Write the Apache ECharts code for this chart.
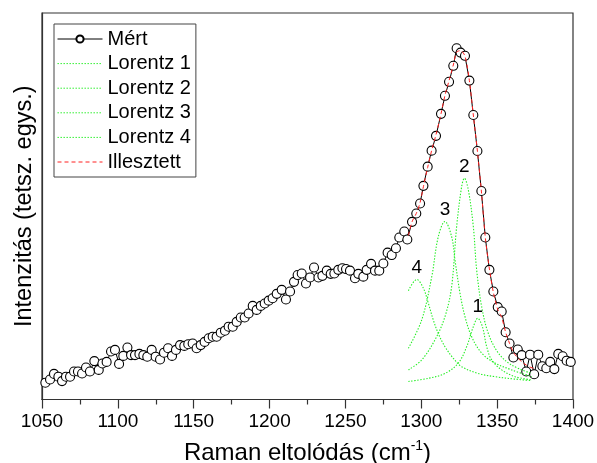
<!DOCTYPE html>
<html>
<head>
<meta charset="utf-8">
<script src="https://cdn.jsdelivr.net/npm/echarts@6/dist/echarts.min.js"></script>
<style>
  html, body { margin: 0; padding: 0; background: #fff; }
  #chart { width: 597px; height: 463px; }
</style>
</head>
<body>
<div id="chart"></div>
<script>
// Measured Raman spectrum (shift in cm-1, intensity in arbitrary units)
const ramanShift = [
  1052.2, 1055.3, 1057.9, 1060.8, 1063.2, 1065.8, 1068.5, 1071.1, 1073.7, 1076.4,
  1079.0, 1081.6, 1084.5, 1087.4, 1089.8, 1092.6, 1095.5, 1098.1, 1100.8, 1103.6,
  1106.3, 1108.7, 1111.3, 1114.2, 1116.8, 1119.4, 1122.3, 1124.9, 1127.8, 1130.4,
  1133.1, 1135.7, 1138.3, 1141.0, 1143.8, 1146.4, 1149.3, 1151.9, 1154.6, 1157.2,
  1159.9, 1162.5, 1165.1, 1167.8, 1170.6, 1173.0, 1175.7, 1178.3, 1181.0, 1183.6,
  1186.2, 1188.9, 1191.5, 1194.2, 1196.8, 1199.4, 1202.0, 1204.7, 1208.0, 1210.8,
  1213.5, 1216.1, 1218.5, 1221.2, 1224.0, 1226.7, 1229.3, 1232.2, 1234.8, 1237.7,
  1240.3, 1242.7, 1245.3, 1248.0, 1250.4, 1253.0, 1256.3, 1258.5, 1261.8, 1264.0,
  1266.9, 1269.5, 1272.3, 1275.0, 1277.8, 1280.5, 1283.3, 1285.5, 1288.8, 1290.8,
  1293.9, 1296.7, 1299.2, 1301.4, 1304.2, 1306.8, 1309.7, 1313.0, 1315.6, 1318.3,
  1321.1, 1323.3, 1325.9, 1328.8, 1331.7, 1334.3, 1337.0, 1339.6, 1342.2, 1344.9,
  1347.5, 1350.4, 1353.0, 1355.6, 1358.2, 1360.7, 1363.6, 1366.2, 1369.2, 1371.7,
  1374.4, 1377.1, 1379.8, 1382.4, 1385.0, 1387.7, 1390.3, 1393.2, 1395.8, 1398.5
];
const measured = [
  42, 50, 64, 57, 46, 57, 57, 70, 70, 65,
  80, 70, 96, 74, 90, 94, 120, 124, 89, 109,
  130, 111, 111, 114, 111, 107, 124, 107, 100, 117,
  128, 109, 124, 136, 134, 138, 140, 128, 136, 144,
  153, 157, 157, 167, 172, 182, 182, 194, 205, 205,
  215, 234, 224, 234, 240, 247, 253, 264, 274, 250,
  270, 294, 311, 315, 290, 305, 330, 305, 309, 322,
  314, 315, 324, 328, 326, 322, 303, 314, 307, 324,
  339, 322, 322, 340, 367, 361, 378, 405, 420, 400,
  444, 465, 490, 534, 582, 622, 659, 714, 759, 794,
  834, 878, 867, 859, 797, 711, 621, 521, 405, 324,
  270, 231, 220, 168, 140, 105, 125, 111, 70, 112,
  63, 112, 83, 78, 94, 76, 114, 108, 97, 94
];

// Lorentzian components
const lor1X = [1291.5, 1304.7, 1315.6, 1324.4, 1329.9, 1334.3, 1337.2, 1340.3, 1343.1, 1346.4, 1353.0, 1361.8, 1372.8];
const lor1Y = [45, 53, 65, 91, 132, 182, 203, 182, 132, 99, 74, 57, 49];
const lor2X = [1291.5, 1300.3, 1309.0, 1315.6, 1320.0, 1323.3, 1326.6, 1328.4, 1331.0, 1334.3, 1336.5, 1339.8, 1344.2, 1350.8, 1359.6, 1372.8];
const lor2Y = [74, 99, 149, 207, 282, 432, 532, 553, 524, 432, 324, 232, 165, 116, 86, 65];
const lor3X = [1291.5, 1300.3, 1306.9, 1311.2, 1315.6, 1320.0, 1322.2, 1325.5, 1328.8, 1333.2, 1339.8, 1348.6, 1359.6, 1372.8];
const lor3Y = [128, 199, 307, 407, 445, 407, 349, 266, 207, 157, 116, 91, 74, 57];
const lor4X = [1291.5, 1297.0, 1301.4, 1304.7, 1307.9, 1311.2, 1315.6, 1321.1, 1326.6, 1337.6, 1348.6, 1361.8, 1372.8];
const lor4Y = [272, 300, 278, 240, 199, 165, 132, 103, 82, 65, 57, 51, 47];

// Fitted envelope
const fitX = [1291.5, 1293.9, 1296.7, 1299.2, 1301.4, 1304.2, 1306.8, 1309.7, 1313.0, 1315.6,
  1318.3, 1321.1, 1323.3, 1325.9, 1328.8, 1331.7, 1334.3, 1337.0, 1339.6, 1342.2,
  1344.9, 1347.5, 1350.4, 1353.0, 1355.6, 1358.2, 1360.7, 1363.6, 1366.2, 1369.2, 1371.7, 1373.9];
const fitY = [410, 444, 465, 492, 532, 580, 622, 662, 714, 760,
  797, 836, 868, 872, 858, 797, 711, 621, 521, 405,
  326, 268, 225, 205, 168, 140, 118, 104, 94, 86, 81, 78];

const FONT = 'Liberation Sans, Arial, sans-serif';
const GREEN = '#22ee22';
const RED = '#ff2020';

function pairs(xs, ys) { return xs.map((x, i) => [x, ys[i]]); }

// number label placed just above the maximum of a component
function peakMark(xs, ys, text) {
  let k = 0;
  ys.forEach((v, i) => { if (v > ys[k]) k = i; });
  return {
    symbol: 'circle', symbolSize: 0, silent: true,
    label: { show: true, position: 'top', distance: 2, formatter: text,
             color: '#000', fontSize: 19, fontFamily: FONT },
    data: [{ coord: [xs[k], ys[k]] }]
  };
}

function lorentzSeries(name, xs, ys, label) {
  return {
    name, type: 'line', data: pairs(xs, ys), smooth: 0.35, symbol: 'none',
    lineStyle: { color: GREEN, width: 1.1, type: [1.4, 1.6] },
    itemStyle: { color: GREEN },
    markPoint: peakMark(xs, ys, label), z: 3
  };
}

// legend entries drawn as a bare line (no marker)
const lineOnly = { color: 'transparent', borderWidth: 0 };

const chart = echarts.init(document.getElementById('chart'), null, { renderer: 'canvas' });
chart.setOption({
  animation: false,
  backgroundColor: '#fff',
  grid: { left: 42, right: 24, top: 13, bottom: 63.5, show: true,
          outerBoundsMode: 'none', containLabel: false,
          borderColor: '#333', borderWidth: 1.2, backgroundColor: 'transparent' },
  legend: {
    left: 54, top: 24, orient: 'vertical',
    padding: [5, 5, 5, 3], itemGap: 4.6, itemWidth: 45, itemHeight: 9,
    borderColor: '#444', borderWidth: 1, backgroundColor: '#fff',
    lineStyle: { width: 1 },
    textStyle: { fontSize: 20, fontFamily: FONT, color: '#000' },
    data: [
      { name: 'Mért' },
      { name: 'Lorentz 1', itemStyle: lineOnly },
      { name: 'Lorentz 2', itemStyle: lineOnly },
      { name: 'Lorentz 3', itemStyle: lineOnly },
      { name: 'Lorentz 4', itemStyle: lineOnly },
      { name: 'Illesztett', itemStyle: lineOnly }
    ]
  },
  xAxis: {
    type: 'value', min: 1050, max: 1400, interval: 50,
    name: 'Raman eltolódás (cm{sup|-1})', nameLocation: 'middle', nameGap: 40,
    nameTextStyle: { fontSize: 24, fontFamily: FONT, color: '#000',
      rich: { sup: { fontSize: 14, fontFamily: FONT, verticalAlign: 'top', lineHeight: 28 } } },
    axisLine: { show: true, onZero: false, lineStyle: { color: '#333', width: 1.2 } },
    axisTick: { show: true, inside: false, length: 9, lineStyle: { color: '#333', width: 1.2 } },
    minorTick: { show: true, splitNumber: 2, length: 5, lineStyle: { color: '#333', width: 1.2 } },
    axisLabel: { margin: 12.5, fontSize: 19, fontFamily: FONT, color: '#000',
      formatter: v => String(v) },
    splitLine: { show: false }
  },
  yAxis: {
    type: 'value', min: 0, max: 966,
    name: 'Intenzitás (tetsz. egys.)', nameLocation: 'middle', nameGap: 5.5,
    nameTextStyle: { fontSize: 23.5, fontFamily: FONT, color: '#000' },
    axisLine: { show: true, lineStyle: { color: '#333', width: 1.2 } },
    axisTick: { show: false }, axisLabel: { show: false }, splitLine: { show: false }
  },
  series: [
    {
      name: 'Mért', type: 'line', data: pairs(ramanShift, measured),
      symbol: 'circle', symbolSize: 9, showAllSymbol: true,
      lineStyle: { color: '#000', width: 1 },
      itemStyle: { color: '#fff', borderColor: '#000', borderWidth: 1.1 },
      z: 2
    },
    lorentzSeries('Lorentz 1', lor1X, lor1Y, '1'),
    lorentzSeries('Lorentz 2', lor2X, lor2Y, '2'),
    lorentzSeries('Lorentz 3', lor3X, lor3Y, '3'),
    lorentzSeries('Lorentz 4', lor4X, lor4Y, '4'),
    {
      name: 'Illesztett', type: 'line', data: pairs(fitX, fitY), smooth: 0.3, symbol: 'none',
      lineStyle: { color: RED, width: 1, type: [4, 3] },
      itemStyle: { color: RED },
      z: 5
    }
  ]
});
</script>
</body>
</html>
